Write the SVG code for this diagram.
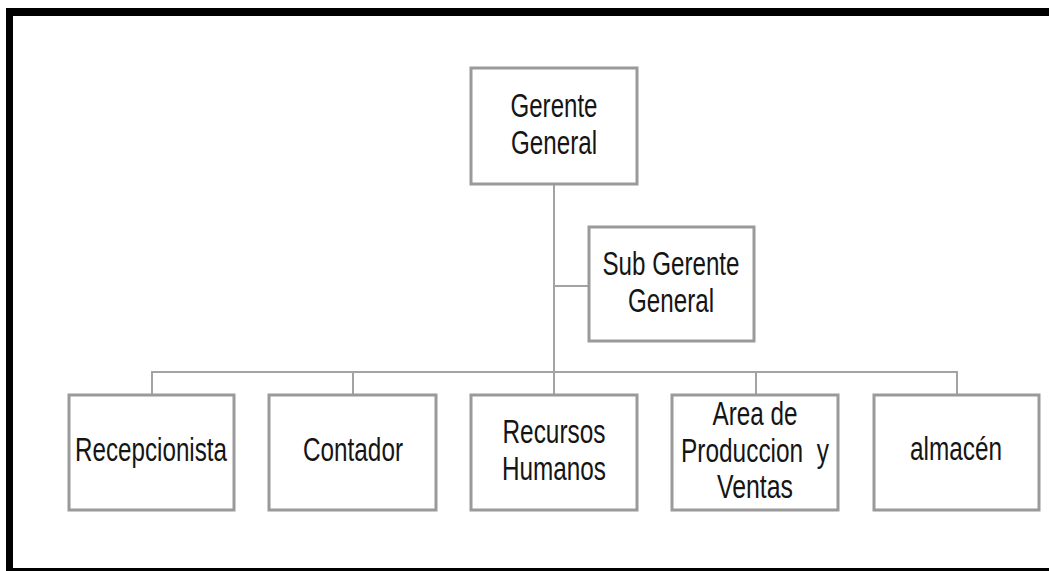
<svg xmlns="http://www.w3.org/2000/svg" width="1049" height="571" viewBox="0 0 1049 571">
  <style>
    .box { fill: #ffffff; stroke: #9a9a9a; stroke-width: 3; }
    .lbl { font-family: "Liberation Sans", Arial, sans-serif; font-size: 33px; fill: #151515; text-anchor: middle; }
    .conn { stroke: #a3a3a3; stroke-width: 2; fill: none; }
  </style>
  <rect x="0" y="0" width="1049" height="571" fill="#ffffff"/>
  <g id="frame" fill="#000000">
    <rect x="6" y="8" width="1043" height="8"/>
    <rect x="6" y="8" width="7" height="563"/>
    <rect x="6" y="568" width="1043" height="3"/>
  </g>
  <g id="connectors">
    <line class="conn" x1="554" y1="185" x2="554" y2="395"/>
    <line class="conn" x1="554" y1="286" x2="589" y2="286"/>
    <line class="conn" x1="151" y1="372" x2="958" y2="372"/>
    <line class="conn" x1="152" y1="372" x2="152" y2="395"/>
    <line class="conn" x1="353" y1="372" x2="353" y2="395"/>
    <line class="conn" x1="756" y1="372" x2="756" y2="395"/>
    <line class="conn" x1="957" y1="372" x2="957" y2="395"/>
  </g>
  <g id="gerente-general">
    <rect class="box" x="471" y="68" width="166" height="116"/>
    <text class="lbl" x="554" y="117" textLength="87" lengthAdjust="spacingAndGlyphs">Gerente</text>
    <text class="lbl" x="554" y="154" textLength="86" lengthAdjust="spacingAndGlyphs">General</text>
  </g>
  <g id="sub-gerente-general">
    <rect class="box" x="589" y="227" width="165" height="114"/>
    <text class="lbl" x="671" y="275" textLength="137" lengthAdjust="spacingAndGlyphs">Sub Gerente</text>
    <text class="lbl" x="671" y="312" textLength="86" lengthAdjust="spacingAndGlyphs">General</text>
  </g>
  <g id="recepcionista">
    <rect class="box" x="69" y="395" width="165" height="115"/>
    <text class="lbl" x="151" y="461" textLength="152" lengthAdjust="spacingAndGlyphs">Recepcionista</text>
  </g>
  <g id="contador">
    <rect class="box" x="269" y="395" width="167" height="115"/>
    <text class="lbl" x="353" y="461" textLength="100" lengthAdjust="spacingAndGlyphs">Contador</text>
  </g>
  <g id="recursos-humanos">
    <rect class="box" x="471" y="395" width="166" height="115"/>
    <text class="lbl" x="554" y="443" textLength="103" lengthAdjust="spacingAndGlyphs">Recursos</text>
    <text class="lbl" x="554" y="480" textLength="104" lengthAdjust="spacingAndGlyphs">Humanos</text>
  </g>
  <g id="area-produccion-ventas">
    <rect class="box" x="672" y="395" width="166" height="115"/>
    <text class="lbl" x="755" y="425" textLength="85" lengthAdjust="spacingAndGlyphs">Area de</text>
    <text class="lbl" x="755" y="462" textLength="148" lengthAdjust="spacingAndGlyphs" xml:space="preserve">Produccion  y</text>
    <text class="lbl" x="755" y="498" textLength="76" lengthAdjust="spacingAndGlyphs">Ventas</text>
  </g>
  <g id="almacen">
    <rect class="box" x="874" y="395" width="165" height="115"/>
    <text class="lbl" x="956" y="460" textLength="92" lengthAdjust="spacingAndGlyphs">almacén</text>
  </g>
</svg>
